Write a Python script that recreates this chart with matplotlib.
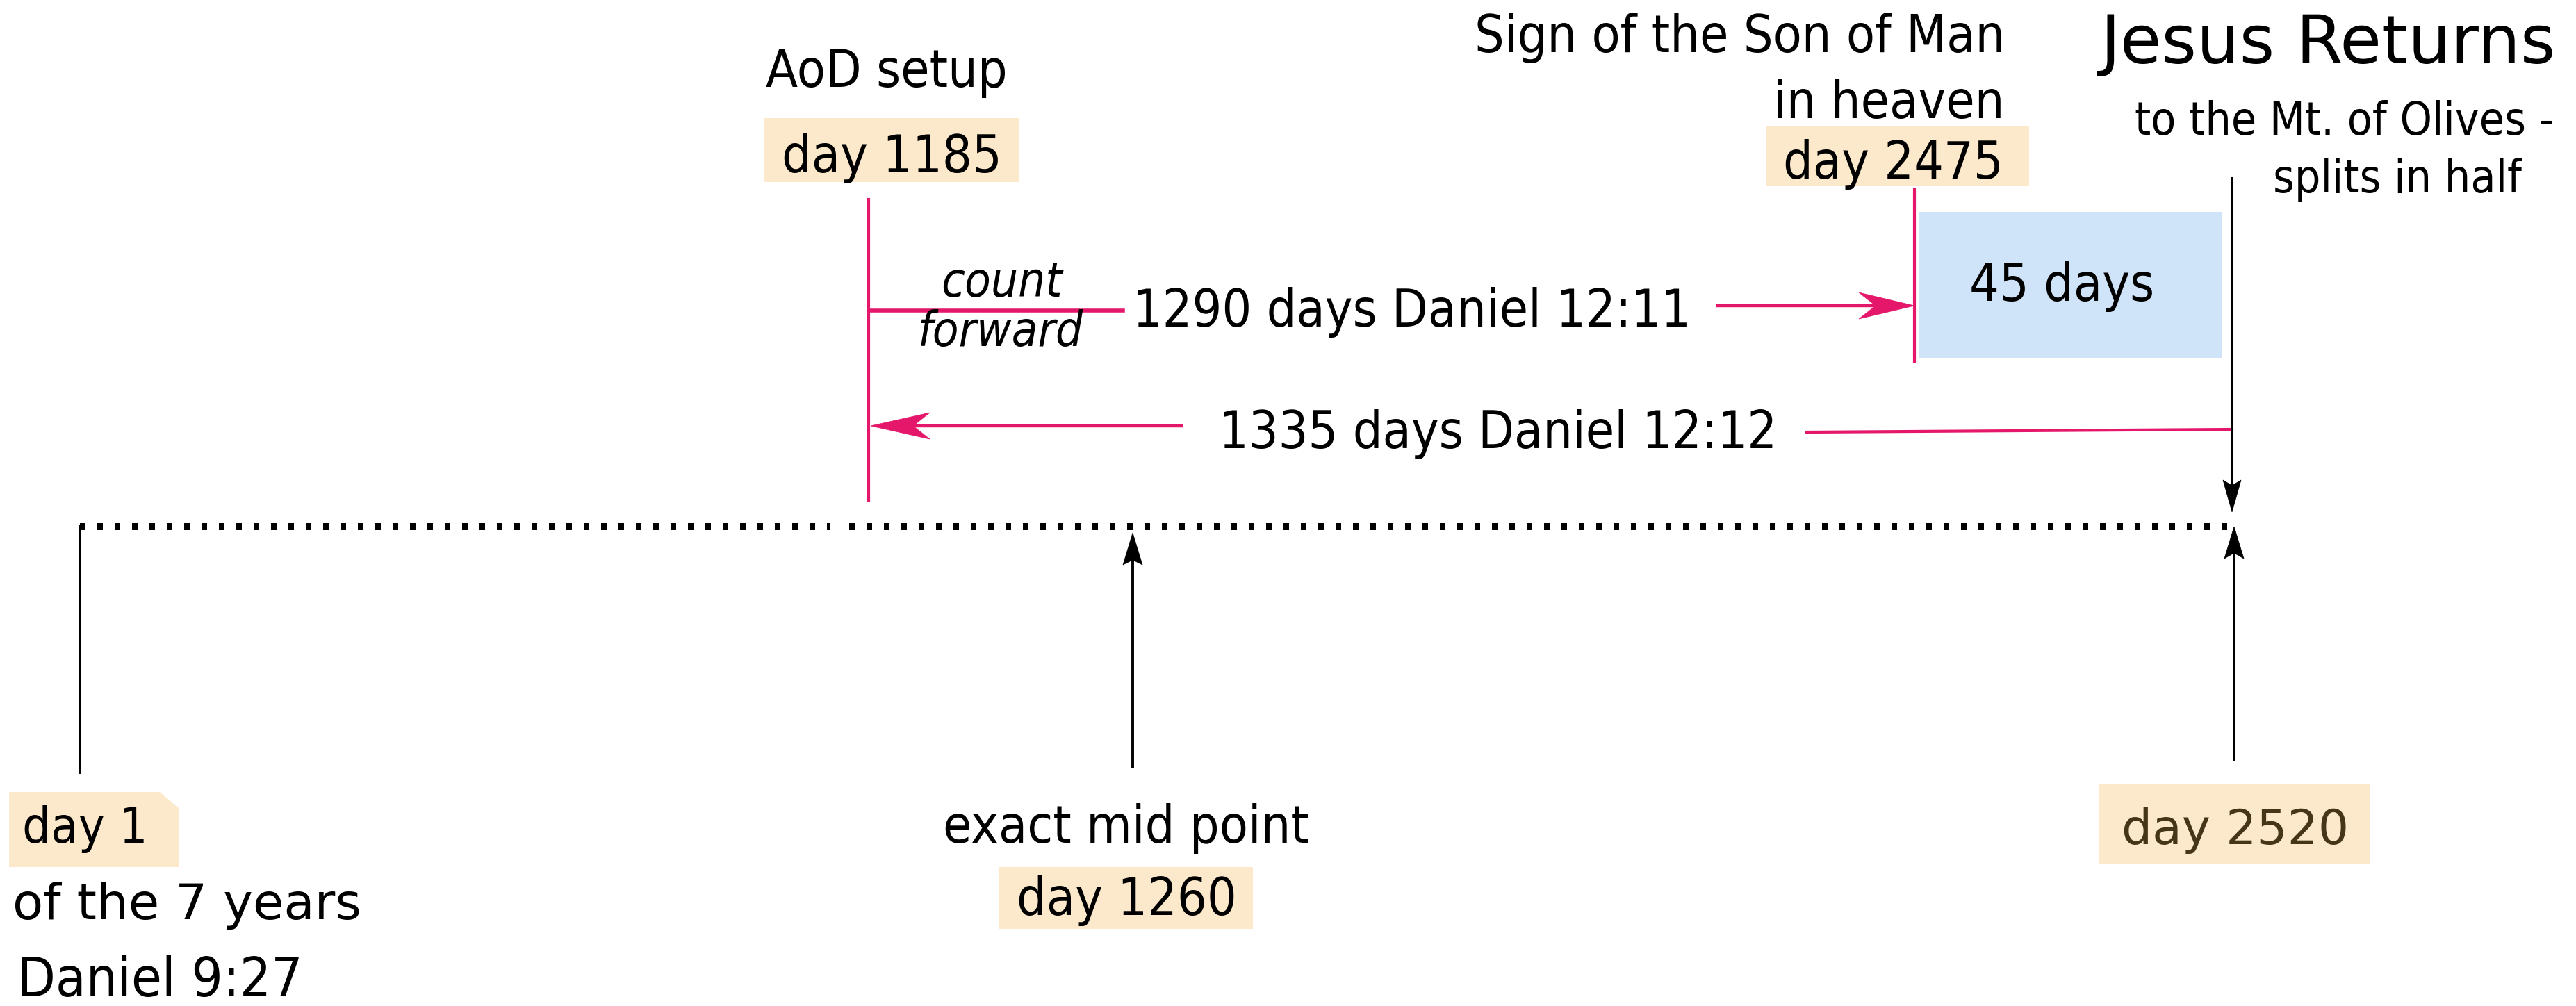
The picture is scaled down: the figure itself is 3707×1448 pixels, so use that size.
import matplotlib
matplotlib.use("Agg")
import matplotlib.pyplot as plt
from matplotlib import font_manager
from matplotlib.patches import Rectangle, Polygon
import numpy as np

# Values shown on the timeline
day_numbers = [1, 1185, 1260, 2475, 2520]
day_labels = ["day %d" % d for d in day_numbers]
span_days = [1290, 1335, 45]
span_refs = ["Daniel 12:11", "Daniel 12:12"]
start_notes = ["of the 7 years", "Daniel 9:27"]
event_titles = ["AoD setup", "exact mid point", "Sign of the Son of Man", "in heaven", "Jesus Returns"]
return_notes = ["to the Mt. of Olives -", "splits in half"]

# Layout (canvas pixels, y downward)
W, H = 3707, 1448
x_day = [115, 1250, 1630, 2755, 3215]   # columns for day 1 .. day 2520
y_line = 758                             # dotted timeline

PINK = "#e5176a"
PEACH = "#fce9cb"
BLUE = "#cfe4f8"

# narrow face for most labels if the condensed DejaVu is around
cond = {}
for f in font_manager.fontManager.ttflist:
    base = f.fname.split("/")[-1]
    if base == "DejaVuSansCondensed.ttf":
        cond["normal"] = f.fname
    elif base == "DejaVuSansCondensed-Oblique.ttf":
        cond["italic"] = f.fname
if "normal" in cond:
    SCALE = 1.1
    def nfont(size, style="normal"):
        path = cond.get(style, cond["normal"])
        return font_manager.FontProperties(fname=path, size=size * SCALE)
else:
    def nfont(size, style="normal"):
        return font_manager.FontProperties(family="DejaVu Sans", style=style, size=size)

FS = 49

fig = plt.figure(figsize=(W / 100, H / 100), dpi=100)
ax = fig.add_axes([0, 0, 1, 1])
ax.set_xlim(0, W)
ax.set_ylim(H, 0)
ax.axis("off")


def arrow(x0, y0, x1, y1, color, lw, hl, hw, notch):
    # shaft plus a notched (stealth) head, sizes in canvas px
    u = np.array([x1 - x0, y1 - y0], float)
    u /= np.hypot(*u)
    n = np.array([-u[1], u[0]])
    tip = np.array([x1, y1], float)
    back = tip - u * hl
    inner = tip - u * (hl - notch)
    ax.plot([x0, inner[0]], [y0, inner[1]], color=color, lw=lw, solid_capstyle="butt")
    ax.add_patch(Polygon([tip, back + n * hw, inner, back - n * hw], closed=True,
                         facecolor=color, edgecolor=color, lw=0.5))


def box(x0, y0, x1, y1, color=PEACH):
    ax.add_patch(Rectangle((x0, y0), x1 - x0, y1 - y0, facecolor=color, edgecolor="none", zorder=0))


def label(x, y, s, size=FS, ha="left", style="normal", **kw):
    ax.text(x, y, s, fontproperties=nfont(size, style), va="baseline", ha=ha, **kw)


# dotted timeline (small break near AoD)
ax.plot([x_day[0], 1195], [y_line, y_line], color="black", lw=7.2, ls=(0, (0.8, 1.7)), solid_capstyle="butt")
ax.plot([1222, x_day[4]], [y_line, y_line], color="black", lw=7.2, ls=(0, (0.8, 1.7)), solid_capstyle="butt")

# day 1
ax.plot([x_day[0], x_day[0]], [y_line, 1112], color="black", lw=2.8)
ax.add_patch(Polygon([(13, 1140), (230, 1140), (257, 1163), (257, 1248), (13, 1248)],
                     closed=True, facecolor=PEACH, edgecolor="none", zorder=0))
label(32, 1213, day_labels[0], size=47)
ax.text(18, 1323, start_notes[0], fontsize=52, va="baseline", ha="left")
label(25, 1434, start_notes[1], size=52)

# mid point
arrow(x_day[2], 1105, x_day[2], 767, "black", 2.8, 46, 14, 7)
label(1620, 1213, event_titles[1], ha="center")
box(1437, 1248, 1803, 1337)
label(1621, 1317, day_labels[2], ha="center")

# day 2520
arrow(x_day[4], 1095, x_day[4], 758, "black", 2.8, 46, 14, 8)
box(3020, 1128, 3410, 1243)
ax.text(3217, 1215, day_labels[4], fontsize=50, va="baseline", ha="center", color="#45361a")

# AoD setup
label(1102, 125, event_titles[0])
box(1100, 170, 1467, 262)
label(1283, 248, day_labels[1], ha="center")
ax.plot([x_day[1], x_day[1]], [287, 720], color=PINK, lw=3)
ax.plot([x_day[1], 1616], [447, 447], color=PINK, lw=4)
label(1441, 427, "count", size=45, ha="center", style="italic")
label(1440, 498, "forward", size=45, ha="center", style="italic")

# 1290 days
label(1630, 470, "%d days %s" % (span_days[0], span_refs[0]))
arrow(2470, 440, x_day[3], 440, PINK, 3.2, 80, 19, 24)

# sign of the Son of Man
label(2885, 75, event_titles[2], ha="right")
label(2885, 170, event_titles[3], ha="right")
box(2541, 182, 2920, 268)
label(2883, 257, day_labels[3], ha="right")
ax.plot([x_day[3], x_day[3]], [273, 520], color=PINK, lw=3)

# 45 days
box(2762, 305, 3197, 515, BLUE)
label(2967, 433, "%d days" % span_days[2], ha="center")

# 1335 days
arrow(1703, 613, x_day[1] + 3, 613, PINK, 3.2, 85, 19, 24)
label(1754, 645, "%d days %s" % (span_days[1], span_refs[1]))
ax.plot([2600, 3212], [622, 618], color=PINK, lw=3)

# Jesus returns
ax.text(3022, 91, event_titles[4], fontsize=70, va="baseline", ha="left")
label(3675, 194, return_notes[0], size=43, ha="right")
label(3450, 277, return_notes[1], size=43, ha="center")
arrow(3212, 255, 3212, 737, "black", 2.8, 46, 13, 8)

fig.savefig("out.png", dpi=100, facecolor="white")
